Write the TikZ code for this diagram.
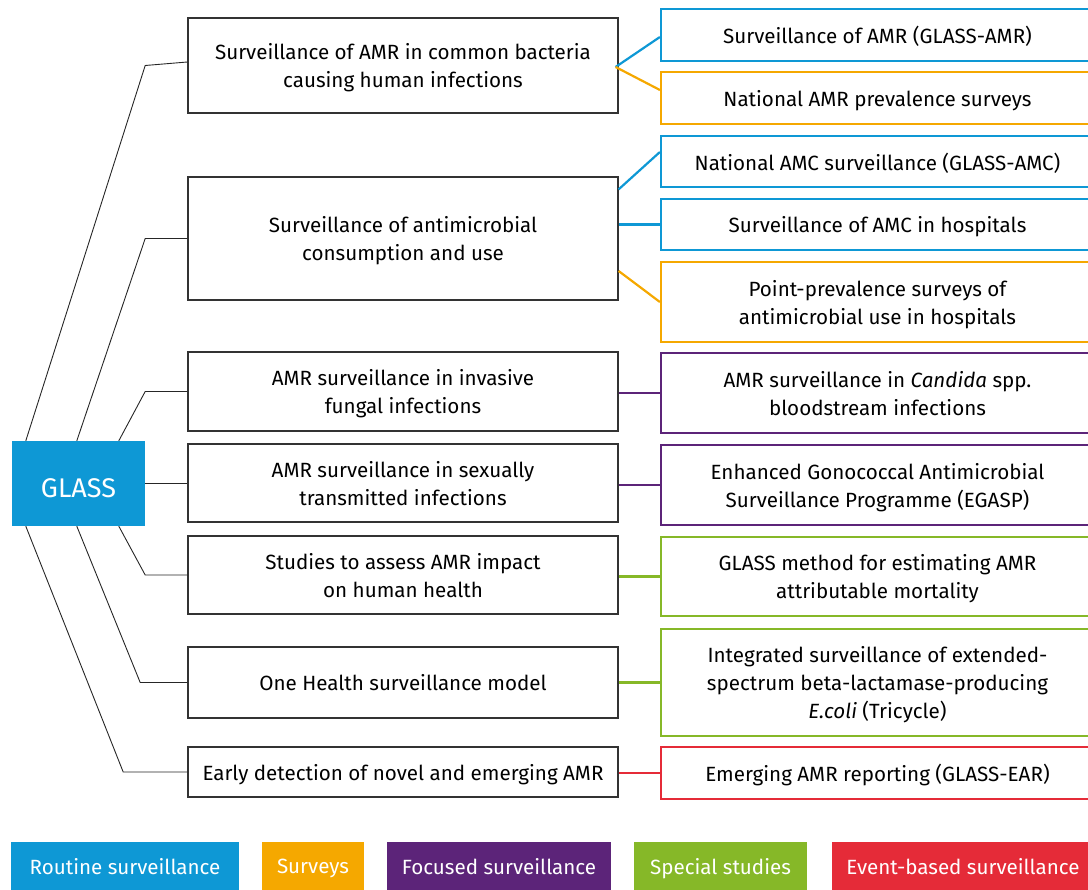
\documentclass[tikz,border=0pt]{standalone}
\usepackage{fontspec}
\setmainfont{Fira Sans}
\usetikzlibrary{calc,positioning}
\definecolor{routine}{HTML}{0E98D5}
\definecolor{surveys}{HTML}{F5A800}
\definecolor{focused}{HTML}{5C2479}
\definecolor{special}{HTML}{86B828}
\definecolor{event}{HTML}{E52B38}
\newcommand{\boxfont}{\fontsize{20.6}{28}\selectfont}
\tikzset{
  glass node/.style={fill=routine,text=white,minimum width=133pt,minimum height=85pt,inner sep=0pt,
    font=\fontsize{27}{30}\selectfont,execute at begin node={\rule{0pt}{1.02em}}},
  area box/.style={draw=black!80,line width=1.2pt,minimum width=430pt,minimum height=#1,inner sep=0pt,
    align=center,font=\boxfont,text depth=-7pt},
  item box/.style={draw=#1,line width=2.2pt,minimum width=433pt,inner sep=0pt,
    align=center,font=\boxfont,text depth=-6pt},
  tree edge/.style={black!85,line width=0.9pt},
  item edge/.style={draw=#1,line width=2.2pt},
  key box/.style={fill=#1,text=white,minimum height=48pt,inner sep=0pt,font=\boxfont,text depth=-5pt},
}

\begin{document}
\begin{tikzpicture}[x=1pt,y=-1pt]
  \useasboundingbox (0,0) rectangle (1088,890);
  \node[glass node] (glass) at (78.5,483.5) {GLASS};

  % surveillance areas
  \node[area box=95] (m1) at (403,65.5) {Surveillance of AMR in common bacteria\\causing human infections};
  \node[area box=123] (m2) at (403,238.5) {Surveillance of antimicrobial\\consumption and use};
  \node[area box=79] (m3) at (403,391.5) {AMR surveillance in invasive\\fungal infections};
  \node[area box=78] (m4) at (403,483) {AMR surveillance in sexually\\transmitted infections};
  \node[area box=78] (m5) at (403,575) {Studies to assess AMR impact\\on human health};
  \node[area box=71] (m6) at (403,682.5) {One Health surveillance model};
  \node[area box=50] (m7) at (403,772) {Early detection of novel and emerging AMR};

  % activities
  \node[item box=routine,minimum height=52pt] (r1) at (877.5,35) {Surveillance of AMR (GLASS-AMR)};
  \node[item box=surveys,minimum height=52pt] (r2) at (877.5,98) {National AMR prevalence surveys};
  \node[item box=routine,minimum height=51pt] (r3) at (877.5,161.5) {National AMC surveillance (GLASS-AMC)};
  \node[item box=routine,minimum height=51pt] (r4) at (877.5,224.5) {Surveillance of AMC in hospitals};
  \node[item box=surveys,minimum height=80pt] (r5) at (877.5,302) {Point-prevalence surveys of\\antimicrobial use in hospitals};
  \node[item box=focused,minimum height=80pt] (r6) at (877.5,393) {AMR surveillance in \textit{Candida} spp.\\bloodstream infections};
  \node[item box=focused,minimum height=80pt] (r7) at (877.5,485) {Enhanced Gonococcal Antimicrobial\\Surveillance Programme (EGASP)};
  \node[item box=special,minimum height=79pt] (r8) at (877.5,576.5) {GLASS method for estimating AMR\\attributable mortality};
  \node[item box=special,minimum height=107pt] (r9) at (877.5,682.5) {Integrated surveillance of extended-\\spectrum beta-lactamase-producing\\\textit{E.coli} (Tricycle)};
  \node[item box=event,minimum height=52pt] (r10) at (877.5,773) {Emerging AMR reporting (GLASS-EAR)};

  % tree from GLASS
  \draw[tree edge] ([xshift=14pt]glass.north west) -- (glass.east |- m1.west) -- ([yshift=3.5pt]m1.west);
  \draw[tree edge] ([xshift=65pt]glass.north west) -- (glass.east |- m2.west) -- (m2.west);
  \draw[tree edge] ([xshift=107pt]glass.north west) -- (glass.east |- m3.west) -- (m3.west);
  \draw[tree edge] (glass.east |- m4.west) -- (m4.west);
  \draw[tree edge] ([xshift=107pt]glass.south west) -- (glass.east |- m5.west) -- (m5.west);
  \draw[tree edge] ([xshift=65pt]glass.south west) -- ([xshift=-5pt]glass.east |- m6.west) -- (m6.west);
  \draw[tree edge] ([xshift=14pt]glass.south west) -- ([xshift=-22pt]glass.east |- m7.west) -- (m7.west);

  % links to activities
  \coordinate (j1) at ($(m1.east)+(-3,1.5)$);
  \draw[item edge=routine] (j1) -- ($(r1.west)+(0,2)$);
  \draw[item edge=surveys] (j1) -- ($(r2.west)+(0,-8)$);
  \draw[item edge=routine] ($(m2.north east)+(0,13)$) -- ($(r3.west)+(0,-9.5)$);
  \draw[item edge=routine] (m2.east |- r4.west) -- (r4.west);
  \draw[item edge=surveys] ($(m2.east)+(0,32.5)$) -- (r5.west);
  \draw[item edge=focused] (m3.east |- r6.west) -- (r6.west);
  \draw[item edge=focused] (m4.east |- r7.west) -- (r7.west);
  \draw[item edge=special] (m5.east |- r8.west) -- (r8.west);
  \draw[item edge=special] (m6.east |- r9.west) -- (r9.west);
  \draw[item edge=event] (m7.east |- r10.west) -- (r10.west);

  % legend
  \foreach \col/\x/\w/\txt [count=\i] in {routine/125/228/Routine surveillance,
      surveys/313/102/Surveys, focused/499/224/Focused surveillance,
      special/720.5/173/Special studies, event/963/262/Event-based surveillance}{
    \node[key box=\col,minimum width=\w pt] (key\i) at (\x,866) {\txt};
  }
\end{tikzpicture}
\end{document}
